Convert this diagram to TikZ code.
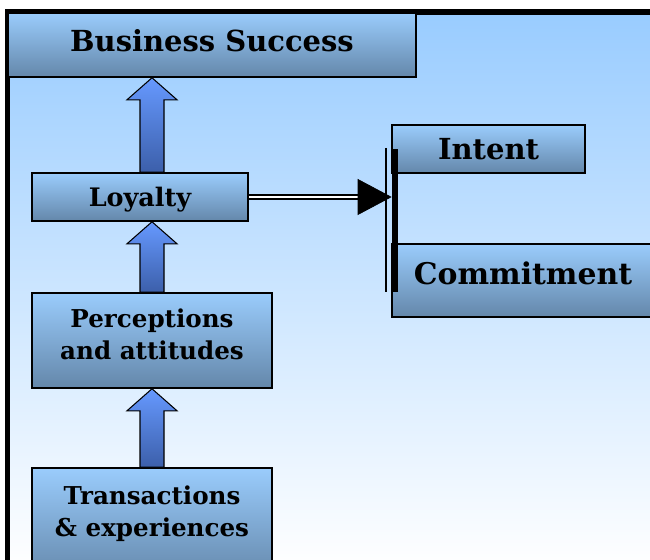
\documentclass[tikz,border=0pt]{standalone}
\usepackage{fontspec}
\setmainfont{DejaVu Serif}
\usepackage{tikz}
\usetikzlibrary{arrows.meta,calc}
\usepackage{xcolor}
\definecolor{panelTop}{HTML}{99CCFF}
\definecolor{boxTop}{HTML}{9ACCFC}
\definecolor{boxBottom}{HTML}{6487AA}
\definecolor{liftTop}{HTML}{6699FF}
\definecolor{liftBottom}{HTML}{3C5FAA}
\tikzset{
    % Shaded boxes
    bluebox/.style={draw=black,line width=0.9pt,top color=boxTop,bottom color=boxBottom,
        inner sep=0pt,align=center,font=\bfseries},
    % Block arrows between the levels
    liftfill/.style={draw=black,line width=0.6pt,top color=liftTop,bottom color=liftBottom},
    % Double connector and the rails it hits
    dblline/.style={draw=black,line width=0.7pt,double=white,double distance=1.6pt},
    rail/.style={draw=black,line width=0.7pt}
}
% block arrow pointing up: #1 base, #2 tip
\newcommand{\liftarrow}[2]{%
    \shade[liftfill] ($(#1)+(-12,0)$) -- ($(#2)+(-12,22)$) -- ($(#2)+(-25,22)$) -- (#2)
        -- ($(#2)+(25,22)$) -- ($(#2)+(12,22)$) -- ($(#1)+(12,0)$) -- cycle;}

\begin{document}
\begin{tikzpicture}[x=0.02cm,y=-0.02cm]
    \clip (0,0) rectangle (650,560);
    \fill[white] (0,0) rectangle (650,560);

    % Background panel
    \shade[top color=panelTop,bottom color=white] (7.5,12) rectangle (660,570);
    \draw[line width=3pt] (7.5,575) -- (7.5,12) -- (660,12);

    % Levels
    \node[bluebox,minimum width=8.16cm,minimum height=1.28cm,text height=0.44cm,text depth=0.16cm,
        font=\bfseries\fontsize{16.5}{20}\selectfont]
        (success) at (212,45) {Business Success};
    \node[bluebox,minimum width=4.32cm,minimum height=0.96cm,text depth=0pt,
        font=\bfseries\fontsize{14.5}{17}\selectfont]
        (loyalty) at (140,197) {Loyalty};
    \node[bluebox,minimum width=4.8cm,minimum height=1.9cm,font=\bfseries\fontsize{14}{18.2}\selectfont]
        (percep) at (152,340.5) {Perceptions\\and attitudes\\[-0.56cm]\strut};
    \node[bluebox,minimum width=4.8cm,minimum height=2.24cm,font=\bfseries\fontsize{14}{18.2}\selectfont]
        (trans) at (152,524) {Transactions\\\& experiences\\[-0.32cm]\strut};

    % Forms of loyalty
    \node[bluebox,minimum width=3.86cm,minimum height=0.96cm,font=\bfseries\fontsize{16.5}{19}\selectfont]
        (intent) at (488.5,149) {Intent};
    \node[bluebox,minimum width=5.24cm,minimum height=1.46cm,text height=0.44cm,text depth=0.26cm,
        font=\bfseries\fontsize{17}{20}\selectfont]
        (commit) at (523,280.5) {Commitment};

    % Arrows up the chain
    \liftarrow{trans.north}{percep.south}
    \liftarrow{percep.north}{percep.north |- loyalty.south}
    \liftarrow{percep.north |- loyalty.north}{percep.north |- success.south}

    % Rails in front of intent and commitment
    \node[fill=black,inner sep=0pt,minimum width=0.12cm,minimum height=2.86cm] (bar) at (395,220.5) {};
    \coordinate (railtop) at (386,148);
    \coordinate (railbot) at (386,292);
    \draw[rail] (railtop) -- (railbot);

    % Loyalty feeds both forms
    \coordinate (hit) at (loyalty.east -| bar.west);
    \draw[dblline] (loyalty.east) -- ($(hit)+(-30,0)$);
    \draw[line width=0.4pt,-{Triangle[length=0.68cm,width=0.72cm]}] ($(hit)+(-34,0)$) -- (hit);
\end{tikzpicture}
\end{document}
